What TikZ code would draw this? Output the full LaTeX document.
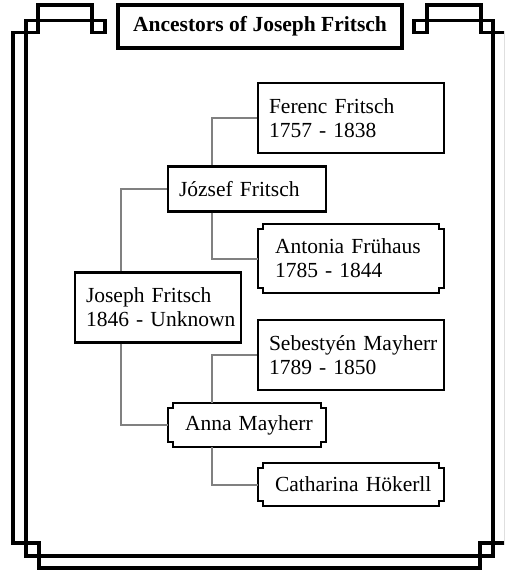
\documentclass[tikz,border=0pt]{standalone}
\usepackage{fontspec}
\setmainfont{Liberation Serif}
\usetikzlibrary{calc}
\newcommand\oneline[1]{\mbox{#1}}
\begin{document}
\begin{tikzpicture}[x=1pt,y=-1pt,
  every node/.style={font=\fontsize{21.5}{24}\selectfont, inner ysep=0pt, align=left},
  male/.style={draw=black, line width=2.4pt, inner xsep=11pt},
  female/.style={inner xsep=17pt, append after command={\pgfextra{%
      \draw[line width=2.4pt, line join=miter]
        ([xshift=5pt]\tikzlastnode.north west) -- ([xshift=-5pt]\tikzlastnode.north east)
        -- ([xshift=-5pt,yshift=-5pt]\tikzlastnode.north east) -- ([yshift=-5pt]\tikzlastnode.north east)
        -- ([yshift=5pt]\tikzlastnode.south east) -- ([xshift=-5pt,yshift=5pt]\tikzlastnode.south east)
        -- ([xshift=-5pt]\tikzlastnode.south east) -- ([xshift=5pt]\tikzlastnode.south west)
        -- ([xshift=5pt,yshift=5pt]\tikzlastnode.south west) -- ([yshift=5pt]\tikzlastnode.south west)
        -- ([yshift=-5pt]\tikzlastnode.north west) -- ([xshift=5pt,yshift=-5pt]\tikzlastnode.north west)
        -- cycle;}}},
  titlebox/.style={draw=black, line width=3.4pt, inner sep=0pt, align=center,
    font=\bfseries\fontsize{21.5}{24}\selectfont},
  link/.style={draw=gray, line width=2pt},
  frame/.style={draw=black, line width=3.8pt, line join=miter}]

\clip (0,0) rectangle (504,570);
\fill[white] (0,0) rectangle (504,570);

% ornamental double border
\draw[frame]
  (506,32.5) -- (481,32.5) -- (481,5) -- (427,5) -- (427,32.5) -- (414,32.5) -- (414,20.5)
  -- (493,20.5) -- (493,556) -- (26,556) -- (26,20.5) -- (105,20.5) -- (105,32.5)
  -- (92,32.5) -- (92,5) -- (38,5) -- (38,32.5) -- (13,32.5) -- (13,543) -- (39,543)
  -- (39,568) -- (480,568) -- (480,543) -- (506,543) -- cycle;

% title
\node[titlebox, fill=white, minimum width=284, minimum height=43] (title) at (260,26.5)
  {Ancestors of Joseph Fritsch};

% people: third generation boxes are 186 wide, second 158, first 166
\node[male, text width=164, minimum height=70] (ferenc) at (351,118)
  {\oneline{Ferenc Fritsch}\\\oneline{1757 - 1838}};
\node[male, text width=136, minimum height=45] (jozsef) at (247,189)
  {\oneline{József Fritsch}};
\node[female, text width=152, minimum height=69] (antonia) at (351,258.5)
  {\oneline{Antonia Frühaus}\\\oneline{1785 - 1844}};
\node[male, text width=144, minimum height=70] (joseph) at (158,307.5)
  {\oneline{Joseph Fritsch}\\\oneline{1846 - Unknown}};
\node[male, text width=164, minimum height=70] (sebestyen) at (351,355)
  {\oneline{Sebestyén Mayherr}\\\oneline{1789 - 1850}};
\node[female, text width=124, minimum height=44] (anna) at (247,425)
  {\oneline{Anna Mayherr}};
\node[female, text width=152, minimum height=43] (catharina) at (351,484.5)
  {\oneline{Catharina Hökerll}};

% trunk positions of the tree links
\coordinate (t1) at (121,0);
\coordinate (t2) at (212,0);

\draw[link] (joseph.north -| t1) |- (jozsef.west);
\draw[link] (joseph.south -| t1) |- (anna.west);
\draw[link] (jozsef.north -| t2) |- (ferenc.west);
\draw[link] (jozsef.south -| t2) |- (antonia.west);
\draw[link] (anna.north -| t2) |- (sebestyen.west);
\draw[link] (anna.south -| t2) |- (catharina.west);
\end{tikzpicture}
\end{document}
